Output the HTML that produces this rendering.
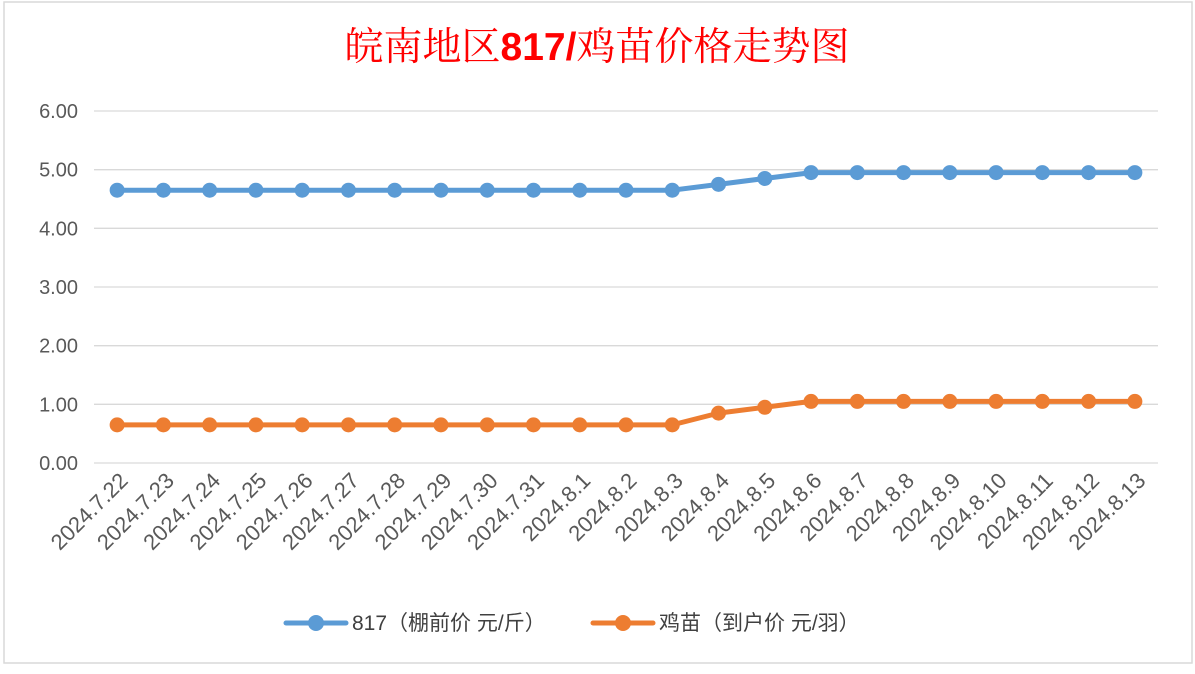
<!DOCTYPE html>
<html><head><meta charset="utf-8"><style>
html,body{margin:0;padding:0;background:#fff;}
body{width:1195px;height:669px;overflow:hidden;font-family:"Liberation Sans","Noto Sans CJK SC",sans-serif;}
</style></head><body>
<svg width="1195" height="669" xmlns="http://www.w3.org/2000/svg">
<rect x="4" y="2" width="1188" height="661" fill="#fff" stroke="#d9d9d9" stroke-width="1.5"/>
<text x="597" y="60" text-anchor="middle" font-size="39" fill="#ff0000" font-family="'Liberation Serif','Noto Serif CJK SC',serif">皖南地区<tspan font-weight="bold" font-family="'Liberation Sans',sans-serif">817/</tspan>鸡苗价格走势图</text>
<g id="grid"></g><g id="ylab"></g><g id="xlab"></g><g id="series"></g>
<g>
<line x1="286" y1="623" x2="346" y2="623" stroke="#5b9bd5" stroke-width="5" stroke-linecap="round"/>
<circle cx="316" cy="623" r="8" fill="#5b9bd5"/>
<text x="352" y="630" font-size="21" fill="#404040">817（棚前价 元/斤）</text>
<line x1="593" y1="623" x2="653" y2="623" stroke="#ed7d31" stroke-width="5" stroke-linecap="round"/>
<circle cx="623" cy="623" r="8" fill="#ed7d31"/>
<text x="659" y="630" font-size="21" fill="#404040">鸡苗（到户价 元/羽）</text>
</g>
</svg>
<script>
const categories=["2024.7.22","2024.7.23","2024.7.24","2024.7.25","2024.7.26","2024.7.27","2024.7.28","2024.7.29","2024.7.30","2024.7.31","2024.8.1","2024.8.2","2024.8.3","2024.8.4","2024.8.5","2024.8.6","2024.8.7","2024.8.8","2024.8.9","2024.8.10","2024.8.11","2024.8.12","2024.8.13"];
const price817=[4.65,4.65,4.65,4.65,4.65,4.65,4.65,4.65,4.65,4.65,4.65,4.65,4.65,4.75,4.85,4.95,4.95,4.95,4.95,4.95,4.95,4.95,4.95];
const priceChick=[0.65,0.65,0.65,0.65,0.65,0.65,0.65,0.65,0.65,0.65,0.65,0.65,0.65,0.85,0.95,1.05,1.05,1.05,1.05,1.05,1.05,1.05,1.05];
const yTicks=[0,1,2,3,4,5,6];
const NS="http://www.w3.org/2000/svg";
const x0=94,x1=1158,y0=463,y1=111,yMax=6;
const step=(x1-x0)/categories.length;
const X=i=>x0+step*(i+0.5);
const Y=v=>y0-(v/yMax)*(y0-y1);
function mk(t,a,p){const e=document.createElementNS(NS,t);for(const k in a)e.setAttribute(k,a[k]);p.appendChild(e);return e;}
const grid=document.getElementById('grid'),ylab=document.getElementById('ylab'),xlab=document.getElementById('xlab'),ser=document.getElementById('series');
yTicks.forEach(v=>{
 const l=mk('line',{x1:x0,x2:x1,y1:Y(v),y2:Y(v),stroke:'#d9d9d9','stroke-width':1.3},grid);
 
 
 const t=mk('text',{x:78,y:Y(v)+7,'text-anchor':'end','font-size':20,fill:'#595959'},ylab);
 t.textContent=v.toFixed(2);
 
 
});
categories.forEach((c,i)=>{
 const t=mk('text',{x:X(i)+12,y:482,'text-anchor':'end','font-size':22,fill:'#595959',transform:`rotate(-45 ${X(i)+12} 482)`},xlab);
 t.textContent=c;
 
 
});
[[price817,'#5b9bd5','series-817'],[priceChick,'#ed7d31','series-chick']].forEach(([d,col,name])=>{
 const g=mk('g',{},ser);
 
 
 const p=mk('polyline',{points:d.map((v,i)=>X(i)+','+Y(v)).join(' '),fill:'none',stroke:col,'stroke-width':5,'stroke-linejoin':'round'},g);
 
 
 d.forEach((v,i)=>{
  const c=mk('circle',{cx:X(i),cy:Y(v),r:7.5,fill:col},g);
  
  
 });
});
</script>
</body></html>
